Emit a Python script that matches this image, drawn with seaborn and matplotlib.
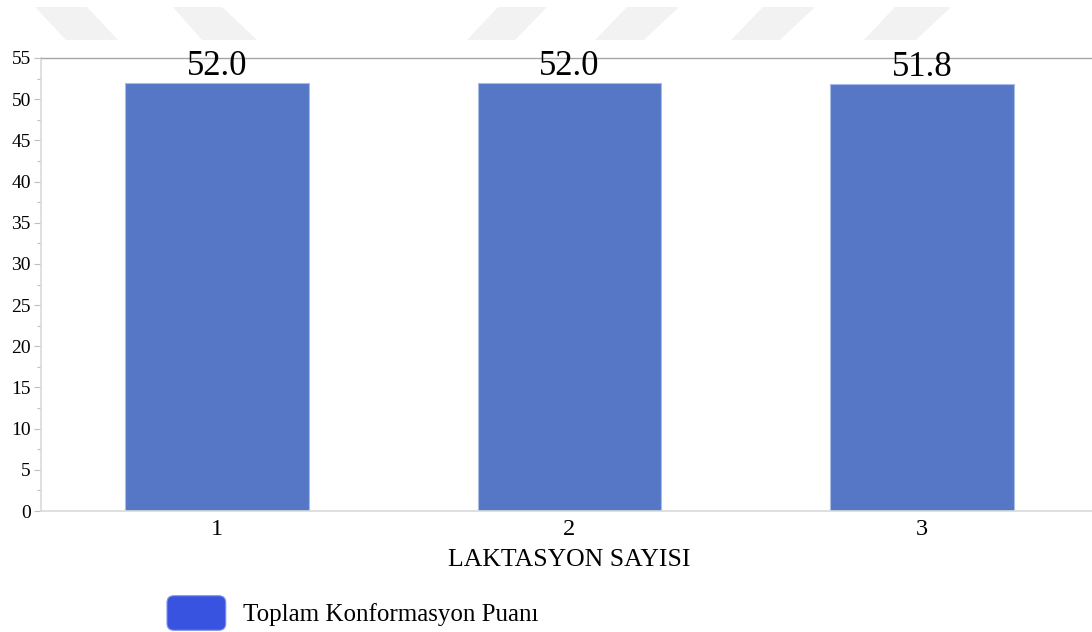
import numpy as np
import pandas as pd
import seaborn as sns
import matplotlib.pyplot as plt
from matplotlib.patches import FancyBboxPatch, Patch, Polygon
from matplotlib.legend_handler import HandlerPatch
from matplotlib.ticker import MultipleLocator

# data
laktasyon = ["1", "2", "3"]
puan = [52.0, 52.0, 51.8]
series_name = "Toplam Konformasyon Puanı"
x_label = "LAKTASYON SAYISI"
y_ticks = list(range(0, 60, 5))

bar_color = "#5577C6"
legend_color = "#3953E1"


class RoundHandler(HandlerPatch):
    # rounded legend swatch like the original
    def create_artists(self, legend, orig_handle, xdescent, ydescent,
                       width, height, fontsize, trans):
        p = FancyBboxPatch((-xdescent, -ydescent), width, height,
                           boxstyle="round,pad=0,rounding_size=5",
                           fc=orig_handle.get_facecolor(),
                           ec=orig_handle.get_edgecolor(), lw=0.8,
                           transform=trans)
        return [p]


sns.set_style("white")
plt.rcParams["font.family"] = ["Liberation Serif", "DejaVu Serif"]
plt.rcParams["text.color"] = "black"
plt.rcParams["xtick.color"] = "black"
plt.rcParams["ytick.color"] = "black"
plt.rcParams["axes.labelcolor"] = "black"

df = pd.DataFrame({"laktasyon": laktasyon, "puan": puan})

fig = plt.figure(figsize=(10.92, 6.32), dpi=100)
ax = fig.add_axes([40.5 / 1092, 1 - 511 / 632, 1058 / 1092, 453 / 632])

sns.barplot(data=df, x="laktasyon", y="puan", color=bar_color,
            width=0.52, saturation=1, edgecolor="#A9BCE6", linewidth=0.8, ax=ax)

ax.set_xlim(-0.5, 2.5)
ax.set_ylim(0, 55)
ax.set_yticks(y_ticks)
ax.yaxis.set_minor_locator(MultipleLocator(2.5))
ax.tick_params(axis="y", which="major", length=5, color="#BFBFBF", width=0.8,
               labelsize=14, pad=2, left=True, labelcolor="black")
ax.tick_params(axis="y", which="minor", length=3, color="#BFBFBF", width=0.8, left=True)
ax.tick_params(axis="x", length=0, labelsize=17.5, pad=6, labelcolor="black")

for lbl in ax.bar_label(ax.containers[0], fmt="%.1f", padding=0, fontsize=25):
    lbl.set_color("black")

ax.set_xlabel(x_label, fontsize=18.5, labelpad=6, color="black")
ax.set_ylabel("")

for side in ["left", "bottom"]:
    ax.spines[side].set_color("#D9D9D9")
    ax.spines[side].set_linewidth(1.2)
ax.spines["top"].set_color("#A6A6A6")
ax.spines["top"].set_linewidth(1.0)
ax.spines["right"].set_visible(False)

# faint watermark stripes along the top edge
stripes = [
    [(35, 7), (87, 7), (118, 40), (66, 40)],
    [(173, 7), (222, 7), (257, 40), (202, 40)],
    [(498, 7), (547, 7), (515, 40), (467, 40)],
    [(627, 7), (679, 7), (644, 40), (595, 40)],
    [(763, 7), (815, 7), (780, 40), (731, 40)],
    [(895, 7), (951, 7), (916, 40), (864, 40)],
]
for pts in stripes:
    xy = [(x / 1092, 1 - y / 632) for x, y in pts]
    fig.patches.append(Polygon(xy, closed=True, transform=fig.transFigure,
                               fc="#F2F2F2", ec="none", zorder=0))

handle = Patch(facecolor=legend_color, edgecolor="#8090E8")
leg = fig.legend([handle], [series_name], handler_map={Patch: RoundHandler()},
                 loc="center left", bbox_to_anchor=(167 / 1092, 1 - 613 / 632),
                 frameon=False, fontsize=18, handlelength=2.35, handleheight=1.75,
                 handletextpad=0.68, borderpad=0, borderaxespad=0)
for t in leg.get_texts():
    t.set_color("black")

fig.savefig("out.png", dpi=100)
